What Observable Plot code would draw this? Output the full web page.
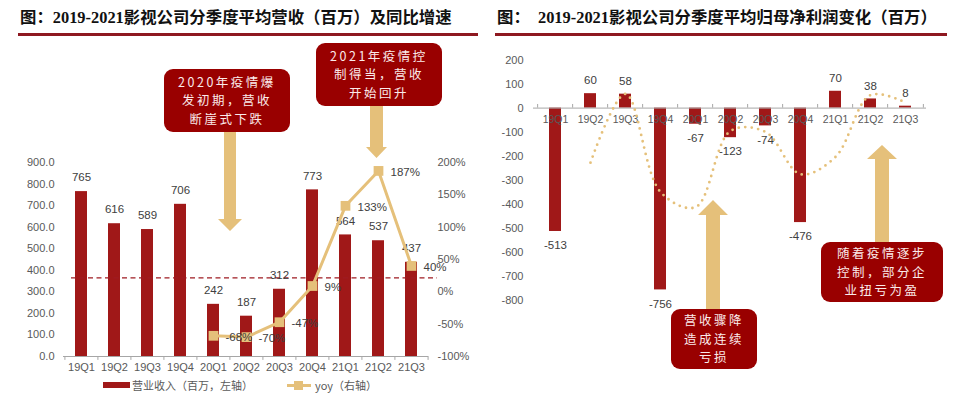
<!DOCTYPE html>
<html><head><meta charset="utf-8">
<script src="https://cdn.jsdelivr.net/npm/d3@7"></script>
<script src="https://cdn.jsdelivr.net/npm/@observablehq/plot@0.6"></script>
<style>
body{margin:0;background:#fff;}
#wrap{position:relative;width:956px;height:393px;overflow:hidden;background:#fff;font-family:"Liberation Sans",Arial,"Noto Sans CJK SC",sans-serif;}
#wrap svg.chart{position:absolute;top:0;}
.title{position:absolute;top:8px;line-height:20px;font-family:"Liberation Serif","Noto Sans CJK SC",serif;font-weight:bold;font-size:16.4px;color:#111;white-space:pre;}
.rule{position:absolute;top:33px;height:2.5px;background:#8E1820;}
.box{position:absolute;background:#990000;border-radius:9px;color:#FBEAEA;font-family:"Noto Sans CJK SC",sans-serif;font-size:12.5px;letter-spacing:2.5px;text-align:center;line-height:18.5px;display:flex;align-items:center;justify-content:center;z-index:3;}
.leg{position:absolute;font-family:"Noto Sans CJK SC",sans-serif;font-size:11px;color:#595959;line-height:14px;white-space:nowrap;}
#arrows{position:absolute;left:0;top:0;z-index:2;}
</style>
</head><body>
<div id="wrap">
  <div class="title" style="left:20px;">图：2019-2021影视公司分季度平均营收（百万）及同比增速</div>
  <div class="rule" style="left:18px;width:460px;"></div>
  <div class="title" style="left:497px;">图：  2019-2021影视公司分季度平均归母净利润变化（百万）</div>
  <div class="rule" style="left:495px;width:452px;"></div>
</div>
<script>
// ---- data ----
const quarters = ["19Q1","19Q2","19Q3","19Q4","20Q1","20Q2","20Q3","20Q4","21Q1","21Q2","21Q3"];
const revenue = [765,616,589,706,242,187,312,773,564,537,437];
const yoyQuarters = ["20Q1","20Q2","20Q3","20Q4","21Q1","21Q2","21Q3"];
const yoy = [-68,-70,-47,9,133,187,40];
const netProfit = [-513,60,58,-756,-67,-123,-74,-476,70,38,8];
const trendQuarters = ["19Q2","19Q3","19Q4","20Q1","20Q2","20Q3","20Q4","21Q1","21Q2","21Q3"];
const trend = [-227,59,-349,-412,-95,-99,-275,-203,54,23];
const revTicks = [0,100,200,300,400,500,600,700,800,900];
const yoyTicks = [-100,-50,0,50,100,150,200];
const profitTicks = [-800,-700,-600,-500,-400,-300,-200,-100,0,100,200];
const revenueRef = 365;
const legendRevenue = "营业收入（百万，左轴）";
const legendYoy = "yoy（右轴）";
const note1 = ["2020年疫情爆","发初期，营收","断崖式下跌"];
const note2 = ["2021年疫情控","制得当，营收","开始回升"];
const note3 = ["营收骤降","造成连续","亏损"];
const note4 = ["随着疫情逐步","控制，部分企","业扭亏为盈"];

// ---- styles ----
const RED = "#A01818", GOLD = "#E5C07A", AXIS = "#595959", LBL = "#404040", BASE = "#A6A6A6";
const wrap = document.getElementById("wrap");

const revData = quarters.map((q,i)=>({q, v: revenue[i]}));
const yoyData = yoyQuarters.map((q,i)=>({q, v: yoy[i]}));
const profData = quarters.map((q,i)=>({q, v: netProfit[i]}));
const trendData = trendQuarters.map((q,i)=>({q, v: trend[i]}));

const H = 393;
const xLeft = {type:"band", domain: quarters, range:[63,428], paddingInner:0.64, paddingOuter:0.32};
const stepL = 365/11;

// Left: bars on left axis
const p1 = Plot.plot({
  width:480, height:H, marginLeft:71, marginRight:43, marginTop:162, marginBottom:37,
  style:{background:"transparent", overflow:"visible", color:AXIS, fontSize:"11px", fontFamily:"Liberation Sans, Arial, sans-serif"},
  x:{...xLeft, tickSize:0, tickPadding:7, label:null},
  y:{domain:[0,900], ticks:revTicks, tickFormat:d=>d.toFixed(1), tickSize:0, tickPadding:17, label:null},
  marks:[
    Plot.barY(revData, {x:"q", y:"v", fill:RED}),
    Plot.ruleY([revenueRef], {stroke:"#9E1B22", strokeDasharray:"5,3.5", strokeWidth:1.3}),
    Plot.text(revData, {x:"q", y:"v", text:d=>String(d.v), dy:-14, fill:LBL, fontSize:11.5})
  ]
});
p1.classList.add("chart"); p1.style.left="0px";
wrap.appendChild(p1);

// Left: yoy on right axis
const p2 = Plot.plot({
  width:480, height:H, marginLeft:63, marginRight:52, marginTop:162, marginBottom:37,
  style:{background:"transparent", overflow:"visible", color:AXIS, fontSize:"11px", fontFamily:"Liberation Sans, Arial, sans-serif"},
  x:{...xLeft, axis:null},
  y:{domain:[-100,200], axis:"right", ticks:yoyTicks, tickFormat:d=>d+"%", tickSize:0, tickPadding:9, label:null},
  marks:[
    Plot.ruleY([-100], {stroke:BASE, strokeWidth:1}),
    Plot.ruleX(quarters, {x:d=>d, y1:-100, y2:-106, dx:-stepL/2, stroke:BASE}),
    Plot.ruleX(quarters.slice(-1), {x:d=>d, y1:-100, y2:-106, dx:stepL/2, stroke:BASE}),
    Plot.line(yoyData, {x:"q", y:"v", stroke:GOLD, strokeWidth:3}),
    Plot.dot(yoyData, {x:"q", y:"v", symbol:"square", r:5.5, fill:GOLD, stroke:"none"}),
    Plot.text(yoyData, {x:"q", y:"v", text:d=>d.v+"%", dx:12, dy:1.5, textAnchor:"start", fill:LBL, fontSize:11.5})
  ]
});
p2.classList.add("chart"); p2.style.left="0px";
wrap.appendChild(p2);

// Right: net profit
const stepR = 393/11;
const p3 = Plot.plot({
  width:476, height:H, marginLeft:53, marginRight:30, marginTop:59.5, marginBottom:93,
  style:{background:"transparent", overflow:"visible", color:AXIS, fontSize:"11px", fontFamily:"Liberation Sans, Arial, sans-serif"},
  x:{type:"band", domain:quarters, paddingInner:0.664, paddingOuter:0.332, axis:null},
  y:{domain:[-800,200], ticks:profitTicks, tickFormat:d=>String(d), tickSize:0, tickPadding:10, label:null},
  marks:[
    Plot.barY(profData, {x:"q", y:"v", fill:RED}),
    Plot.ruleY([0], {stroke:BASE, strokeWidth:1}),
    Plot.ruleX(quarters, {x:d=>d, y1:0, y2:15, dx:-stepR/2, stroke:BASE}),
    Plot.ruleX(quarters.slice(-1), {x:d=>d, y1:0, y2:15, dx:stepR/2, stroke:BASE}),
    Plot.text(quarters, {x:d=>d, y:()=>0, text:d=>d, dy:12, fill:AXIS, fontSize:10.5}),
    Plot.line(trendData, {x:"q", y:"v", curve:"catmull-rom", stroke:GOLD, strokeWidth:2.8, strokeLinecap:"round", strokeDasharray:"0,6.5"}),
    Plot.text(profData.filter(d=>d.v>=0), {x:"q", y:"v", text:d=>String(d.v), dy:-13, fill:LBL, fontSize:11.5}),
    Plot.text(profData.filter(d=>d.v<0), {x:"q", y:"v", text:d=>String(d.v), dy:14, fill:LBL, fontSize:11.5})
  ]
});
p3.classList.add("chart"); p3.style.left="480px";
wrap.appendChild(p3);

// ---- annotations ----
function box(lines, left, top, w, h){
  const d = document.createElement("div");
  d.className = "box";
  Object.assign(d.style, {left:left+"px", top:top+"px", width:w+"px", height:h+"px"});
  d.innerHTML = "<div>"+lines.join("<br>")+"</div>";
  wrap.appendChild(d);
}
box(note1, 164, 69, 126, 63);
box(note2, 316, 43, 126, 63);
box(note3, 671, 309, 86, 60);
box(note4, 821, 242, 122, 60);

const ns = "http://www.w3.org/2000/svg";
const arr = document.createElementNS(ns, "svg");
arr.setAttribute("id","arrows"); arr.setAttribute("width",956); arr.setAttribute("height",393);
const polys = [
  "224,130 236,130 236,219 242,219 230,231 218,219 224,219",
  "370,105 383,105 383,147 387,147 376.5,158 366,147 370,147",
  "706,310 720,310 720,215 728,215 713,200 698,215 706,215",
  "875,243 889,243 889,159 897,159 882,145 867,159 875,159"
];
for (const p of polys){
  const el = document.createElementNS(ns,"polygon");
  el.setAttribute("points", p); el.setAttribute("fill", GOLD);
  arr.appendChild(el);
}
wrap.appendChild(arr);

// ---- legend ----
function el(html, style){ const d=document.createElement("div"); d.className="leg"; d.innerHTML=html; Object.assign(d.style, style); wrap.appendChild(d); }
el("", {left:"103px", top:"382px", width:"27px", height:"6px", background:RED});
el(legendRevenue, {left:"132px", top:"378px"});
el("", {left:"287px", top:"384px", width:"24px", height:"3px", background:GOLD});
el("", {left:"294px", top:"381px", width:"9px", height:"9px", background:GOLD});
el(legendYoy, {left:"315px", top:"378px"});
</script>
</body></html>
